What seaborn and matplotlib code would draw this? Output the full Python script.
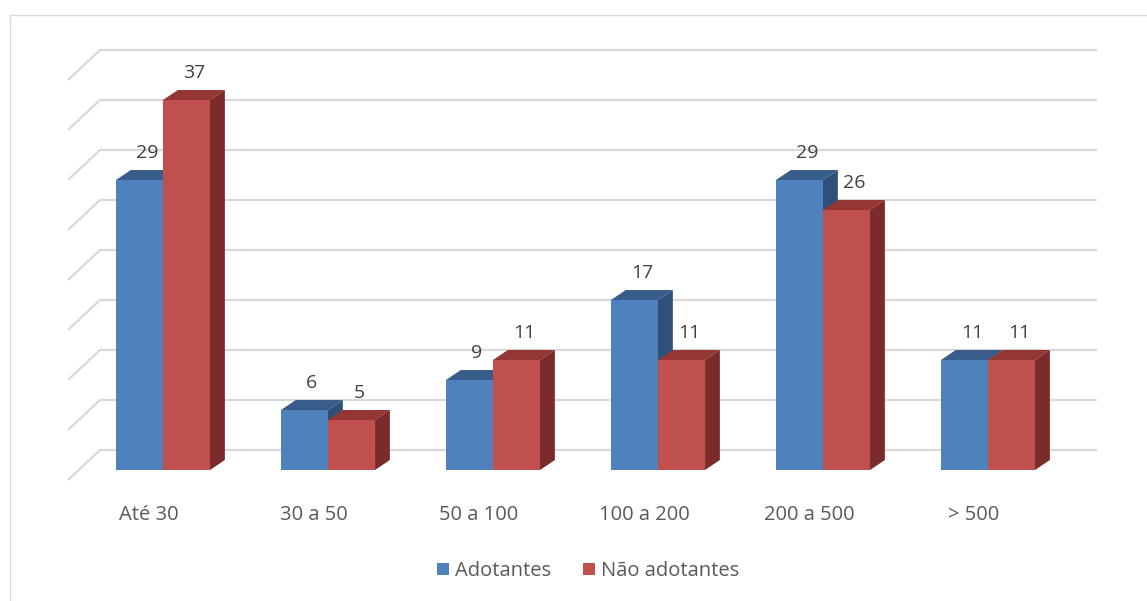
import numpy as np
import pandas as pd
import matplotlib
matplotlib.use('Agg')
import matplotlib.pyplot as plt
import matplotlib.transforms as mtransforms
from matplotlib.patches import Polygon, Rectangle, Patch
import seaborn as sns

# Data
categories = ['Até 30', '30 a 50', '50 a 100', '100 a 200', '200 a 500', '> 500']
adotantes = [29, 6, 9, 17, 29, 11]
nao_adotantes = [37, 5, 11, 11, 26, 11]
series = ['Adotantes', 'Não adotantes']
grid_levels = [0, 5, 10, 15, 20, 25, 30, 35, 40]

front_colors = ['#4F81BD', '#C0504D']
top_colors = ['#385D8A', '#943634']
side_colors = ['#2F5079', '#7B2C2A']

df = pd.DataFrame({
    'cat': categories * 2,
    'serie': [series[0]] * len(categories) + [series[1]] * len(categories),
    'valor': adotantes + nao_adotantes,
})

sns.set_style('white')
plt.rcParams['font.family'] = ['Open Sans', 'DejaVu Sans']

fig = plt.figure(figsize=(11.47, 6.01), dpi=100)
ax = fig.add_axes([68 / 1147, 111 / 601, 1029 / 1147, 450 / 601])

# outer chart frame
fig.patches.append(Rectangle((10 / 1147, -0.1), 1.2, (586 / 601) + 0.1, transform=fig.transFigure,
                             fill=False, edgecolor='#D9D9D9', linewidth=1.0, zorder=0))

xmin, xmax = -0.5758, 5.6606
wall_dx, wall_back, wall_front = 0.194, 2.0, -1.0

# back wall gridlines + floor diagonals
for g in grid_levels:
    ax.plot([xmin, xmin + wall_dx], [g + wall_front, g + wall_back], color='#D9D9D9', lw=1.6, zorder=0.5,
            solid_capstyle='butt')
    ax.plot([xmin + wall_dx, xmax], [g + wall_back, g + wall_back], color='#D9D9D9', lw=1.6, zorder=0.5)

sns.barplot(data=df, x='cat', y='valor', hue='serie', palette=front_colors, width=0.57,
            saturation=1, ax=ax, legend=False, linewidth=0)
ax.set_xlim(xmin, xmax)
ax.set_ylim(-2, 43)

# fake 3D: top and side faces for each bar
dx, dy = 0.09, 1.0
for k, cont in enumerate(ax.containers):
    for bar in cont:
        bar.set_zorder(3 + 2 * k)
        x0 = bar.get_x()
        x1 = x0 + bar.get_width()
        h = bar.get_height()
        top = Polygon([(x0, h), (x0 + dx, h + dy), (x1 + dx, h + dy), (x1, h)], closed=True,
                      facecolor=top_colors[k], edgecolor='none', zorder=2.5 + 2 * k)
        side = Polygon([(x1, 0), (x1 + dx, dy), (x1 + dx, h + dy), (x1, h)], closed=True,
                       facecolor=side_colors[k], edgecolor='none', zorder=2.5 + 2 * k)
        ax.add_patch(top)
        ax.add_patch(side)
        ax.text(x0 + bar.get_width() / 2 + dx / 2, h + 2.7, f'{int(h)}', ha='center', va='center',
                fontsize=14, color='#404040', zorder=10)

for s in ax.spines.values():
    s.set_visible(False)
ax.set_xlabel('')
ax.set_ylabel('')
ax.set_yticks([])
ax.set_xticks(range(len(categories)))
ax.set_xticklabels(categories, fontsize=14.5, color='#595959')
ax.tick_params(axis='x', length=0, pad=11)
offset = mtransforms.ScaledTranslation(-14 / 100, 0, fig.dpi_scale_trans)
for lab in ax.get_xticklabels():
    lab.set_transform(lab.get_transform() + offset)

handles = [Patch(facecolor=c, edgecolor='none') for c in front_colors]
fig.legend(handles, series, loc='center', bbox_to_anchor=(588 / 1147, 1 - 571 / 601), ncol=2,
           frameon=False, fontsize=14.5, handlelength=0.6, handleheight=0.6, handletextpad=0.3,
           columnspacing=1.6, labelcolor='#595959')

fig.savefig('out.png', dpi=100)
